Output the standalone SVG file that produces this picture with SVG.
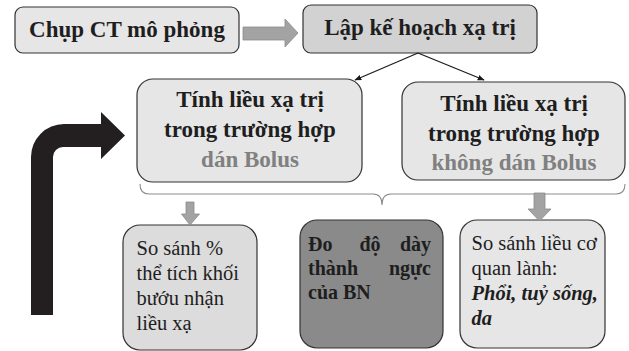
<svg xmlns="http://www.w3.org/2000/svg" width="629" height="351" viewBox="0 0 629 351">
  <defs>
    <marker id="ah" viewBox="0 0 10 10" refX="9" refY="5" markerWidth="7" markerHeight="7" orient="auto" markerUnits="userSpaceOnUse">
      <path d="M0,1 L10,5 L0,9 z" fill="#1a1a1a"/>
    </marker>
  </defs>
  <style>
    .box { stroke: #333; stroke-width: 1.2; }
    .light { fill: #e6e6e6; }
    .mid { fill: #d2d2d2; }
    .pale { fill: #dcdcdc; }
    .dark { fill: #8a8a8a; }
    .t { font-family: "Liberation Serif", "Times New Roman", serif; fill: #1e1e1e; }
    .b { font-weight: bold; }
    .h { font-size: 23px; font-weight: bold; text-anchor: middle; }
    .g { fill: #808080; }
    .n { font-size: 20.5px; }
    .m { font-size: 20px; font-weight: bold; }
    .grey-arrow { fill: #a3a3a3; stroke: #8a8a8a; stroke-width: 0.8; }
    .link { stroke: #1a1a1a; stroke-width: 1.2; fill: none; }
    .brace { stroke: #8c8c8c; stroke-width: 1.1; fill: none; }
  </style>

  <!-- top row -->
  <g id="chup-ct">
    <rect class="box light" x="15" y="7" width="224" height="46" rx="8"/>
    <text class="t h" x="127" y="37">Chụp CT mô phỏng</text>
  </g>
  <g id="lap-ke-hoach">
    <rect class="box mid" x="303" y="5" width="234" height="48" rx="8"/>
    <text class="t h" x="420" y="35">Lập kế hoạch xạ trị</text>
  </g>

  <!-- dose calculation boxes -->
  <g id="dan-bolus">
    <rect class="box light" x="137" y="79" width="225" height="103" rx="16"/>
    <text class="t h" x="250" y="107">Tính liều xạ trị</text>
    <text class="t h" x="250" y="137">trong trường hợp</text>
    <text class="t h g" x="250" y="167">dán Bolus</text>
  </g>
  <g id="khong-dan-bolus">
    <rect class="box light" x="402" y="82" width="223" height="98" rx="16"/>
    <text class="t h" x="514" y="111">Tính liều xạ trị</text>
    <text class="t h" x="514" y="141">trong trường hợp</text>
    <text class="t h g" x="514" y="170">không dán Bolus</text>
  </g>

  <!-- result boxes -->
  <g id="so-sanh-the-tich">
    <rect class="box pale" x="123" y="225" width="134" height="125" rx="17"/>
    <text class="t n" x="136.5" y="255">So sánh %</text>
    <text class="t n" x="136.5" y="280">thể tích khối</text>
    <text class="t n" x="136.5" y="305">bướu nhận</text>
    <text class="t n" x="136.5" y="330">liều xạ</text>
  </g>
  <g id="do-do-day">
    <rect class="box dark" x="300" y="220" width="143" height="128" rx="17"/>
    <text class="t m" x="308" y="251">Đo</text>
    <text class="t m" x="370" y="251" text-anchor="middle">độ</text>
    <text class="t m" x="431" y="251" text-anchor="end">dày</text>
    <text class="t m" x="308" y="275">thành</text>
    <text class="t m" x="431" y="275" text-anchor="end">ngực</text>
    <text class="t m" x="308" y="299">của BN</text>
  </g>
  <g id="so-sanh-lieu">
    <rect class="box light" x="460" y="220" width="145" height="128" rx="17"/>
    <text class="t n" x="471.5" y="250">So sánh liều cơ</text>
    <text class="t n" x="471.5" y="275">quan lành:</text>
    <text class="t n b" font-style="italic" x="471.5" y="300">Phổi, tuỷ sống,</text>
    <text class="t n b" font-style="italic" x="471.5" y="325">da</text>
  </g>

  <!-- connectors -->
  <g id="connectors">
    <path class="grey-arrow" d="M243,27 L285,27 L285,19 L298,33 L285,47 L285,40 L243,40 z"/>
    <line class="link" x1="418" y1="53" x2="355" y2="80" marker-end="url(#ah)"/>
    <line class="link" x1="418" y1="53" x2="484" y2="80" marker-end="url(#ah)"/>
    <path class="brace" d="M140,184 Q140,194 149,194 L373,194 Q382,194 382,205 Q382,194 391,194 L616,194 Q625,194 625,184"/>
    <path class="grey-arrow" d="M186,202 L194,202 L194,214 L199.5,214 L190,225 L181.5,214 L186,214 z"/>
    <path class="grey-arrow" d="M534,193 L545,193 L545,209 L551,209 L539.5,221 L528,209 L534,209 z"/>
    <path fill="#231f20" d="M31,315 L31,157 A33,33 0 0 1 64,124 L101,124 L101,112 L125,135.5 L101,159 L101,147 L63,147 A10,10 0 0 0 53,157 L53,315 z"/>
  </g>
</svg>
